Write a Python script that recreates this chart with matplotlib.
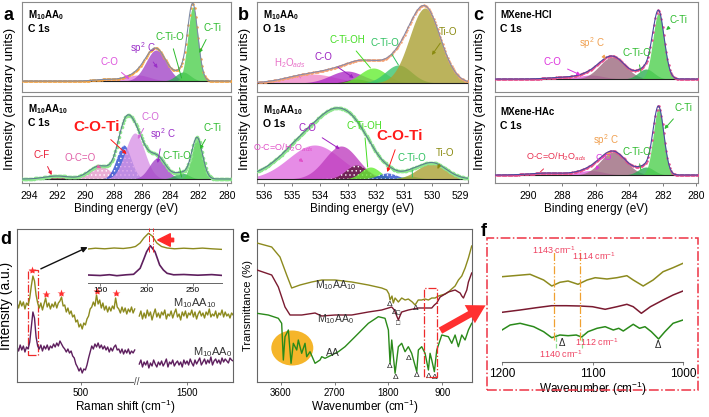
import numpy as np
import matplotlib.pyplot as plt
from matplotlib.patches import Rectangle, Ellipse, FancyArrowPatch

plt.rcParams['font.family'] = ['Liberation Sans', 'DejaVu Sans']
plt.rcParams['mathtext.fontset'] = 'custom'
plt.rcParams['mathtext.rm'] = 'Liberation Sans'
plt.rcParams['mathtext.it'] = 'Liberation Sans:italic'
plt.rcParams['mathtext.bf'] = 'Liberation Sans:bold'
plt.rcParams['hatch.linewidth'] = 0.5

W, H = 709, 417

# ---------------- XPS fitted components (centre eV, height, fwhm) ----------------
a_top_pos = [288.6, 286.3, 285.0, 283.1, 282.4]
a_top_height = [1.5, 6, 31, 9, 74]
a_top_fwhm = [1.8, 2.0, 1.7, 1.2, 0.85]

a_bot_pos = [292.0, 289.0, 287.3, 286.5, 284.9, 283.2, 282.1]
a_bot_height = [3, 13, 34, 46, 21, 6, 41]
a_bot_fwhm = [2.0, 1.8, 1.2, 1.6, 1.4, 1.2, 0.9]

b_top_pos = [534.3, 533.05, 532.7, 532.1, 531.2, 530.25]
b_top_height = [9, 12, 4, 15, 18, 75]
b_top_fwhm = [2.0, 1.4, 0.8, 1.1, 1.1, 1.3]

b_bot_pos = [534.2, 533.25, 532.7, 532.2, 531.6, 530.8, 530.0]
b_bot_height = [34, 33, 14, 12, 6, 3, 16]
b_bot_fwhm = [2.2, 1.4, 0.9, 0.8, 0.8, 0.7, 1.2]
b_bot_background = (534.0, 14, 3.5)

c_top_pos = [288.0, 286.3, 285.0, 283.0, 282.25]
c_top_height = [1.5, 4, 22, 10, 66]
c_top_fwhm = [2.0, 1.8, 1.8, 1.1, 0.8]

c_bot_pos = [288.8, 286.3, 284.95, 283.0, 282.25]
c_bot_height = [2, 4.5, 23, 8, 66.7]
c_bot_fwhm = [2.5, 1.8, 1.8, 1.1, 0.75]

# ---------------- Raman (d) ----------------
raman_left_start, raman_right_start, raman_step = 100, 1200, 10
raman_gap = 331  # cm-1 removed by the axis break
raman_top_left = [79, 74, 81, 76, 80, 73, 79, 77, 84, 96, 106, 101, 87, 79, 74, 79, 72, 78, 84, 75,
                  79, 73, 78, 75, 80, 74, 79, 81, 85, 76, 77, 70, 74, 68, 71, 65, 67, 60, 62, 55,
                  58, 53, 59, 57, 63, 66, 73, 75, 80, 76, 87, 78, 82, 74, 79, 72, 76, 70, 75, 71,
                  76, 73, 84, 75, 73, 69, 75, 70, 74, 68, 73, 70, 75, 69, 73]
raman_bot_left = [35, 31, 37, 32, 36, 30, 35, 33, 40, 55, 70, 64, 45, 36, 33, 37, 31, 36, 33, 37,
                  32, 36, 34, 38, 35, 39, 36, 41, 38, 35, 33, 30, 33, 29, 31, 26, 24, 18, 15, 11,
                  14, 9, 13, 12, 17, 24, 30, 36, 33, 38, 35, 39, 34, 37, 33, 36, 32, 35, 30, 34,
                  31, 35, 37, 32, 33, 29, 33, 28, 32, 29, 33, 28, 31, 29, 32]
raman_top_right = [66, 71, 63, 69, 64, 72, 66, 70, 62, 68, 73, 65, 69, 64, 70, 67, 72, 63, 68, 66,
                   71, 64, 69, 73, 65, 68, 62, 70, 66, 71, 64, 69, 67, 72, 65, 70, 63, 68, 71, 66,
                   69, 64, 70, 67, 73, 65, 68, 66, 71, 64, 69, 67, 72, 65, 70, 66, 68, 64, 69, 67]
raman_bot_right = [18, 22, 15, 20, 17, 21, 14, 19, 16, 22, 18, 15, 20, 17, 21, 16, 19, 23, 15, 20,
                   18, 22, 16, 19, 21, 17, 20, 15, 22, 18, 21, 17, 23, 19, 16, 22, 18, 21, 24, 17,
                   20, 23, 18, 22, 19, 25, 17, 21, 23, 19, 22, 18, 24, 20, 23, 21, 19, 24, 22, 21]
raman_stars_x = [192, 282, 377, 601, 721]
raman_stars_y = [112, 88, 89, 91, 89]

inset_top_x = [137, 145, 155, 165, 175, 183, 188, 193, 197, 202, 206, 211, 216, 222, 230, 240, 250, 260, 270, 281]
inset_top_y = [34, 34.8, 34.2, 35, 34.5, 35.4, 36.5, 40, 45, 49.7, 47, 40, 36.5, 35, 34.2, 34.8, 34.3, 34.9, 34.2, 33.6]
inset_bot_x = [137, 150, 160, 168, 178, 186, 193, 197, 200, 204, 209, 214, 218, 222, 229, 240, 255, 270, 281]
inset_bot_y = [8, 7.5, 8.3, 7.3, 8.2, 8.7, 14.7, 24, 31.3, 37.3, 31.3, 18, 13, 9.7, 8.2, 8.5, 7.8, 8.4, 7.6]

# ---------------- FTIR (e) ----------------
ftir_m10_w = [4000, 3754, 3615, 3503, 3419, 3280, 3084, 2916, 2693, 2414, 2135, 1912, 1828, 1790, 1772,
              1740, 1717, 1688, 1660, 1633, 1577, 1520, 1466, 1400, 1353, 1300, 1242, 1186, 1130, 1074,
              1018, 962, 906, 850, 796, 740, 683, 627, 571, 515, 460, 405]
ftir_m10 = [139, 135, 125, 107, 94, 97, 100, 102, 102, 100, 97, 94, 92, 88, 82,
            86, 79, 84, 82, 80, 84, 82, 83, 80, 77, 82, 82, 83, 82, 84,
            84, 86, 87, 88, 90, 93, 96, 102, 106, 114, 124, 136]
ftir_m0_w = [4000, 3754, 3643, 3531, 3447, 3251, 3028, 2916, 2693, 2414, 2135, 1912, 1800, 1744, 1700,
             1660, 1633, 1600, 1577, 1466, 1300, 1186, 1074, 1030, 990, 934, 850, 796, 683, 628,
             599, 571, 543, 516, 487, 460, 405]
ftir_m0 = [112, 107, 95, 75, 67, 67, 69, 66, 67, 67, 70, 72, 74, 75, 72,
           66, 62, 67, 70, 72, 74, 74, 74, 77, 79, 85, 88, 90, 92, 90,
           89, 86, 84, 88, 92, 100, 109]
ftir_aa_w = [4000, 3811, 3643, 3587, 3559, 3531, 3475, 3430, 3392, 3335, 3308, 3252, 3196, 3168, 3112,
             3028, 2945, 2916, 2861, 2749, 2638, 2526, 2358, 2135, 1968, 1856, 1800, 1772, 1744, 1688,
             1633, 1577, 1521, 1466, 1410, 1325, 1298, 1242, 1186, 1130, 1102, 1074, 1030, 990, 906,
             796, 739, 683, 628, 571, 516, 460, 405]
ftir_aa = [68.7, 67, 63.7, 58.7, 22, 45.3, 52, 18.7, 38.7, 32, 42, 28.7, 38.7, 25.3, 30.3,
           18.7, 22, 25.3, 23.7, 27, 30.3, 35.3, 45.3, 58.7, 65.3, 63.7, 52, 18.7, 42, 8.7,
           35.3, 38.7, 30.3, 35.3, 28.7, 10.3, 32, 35.3, 28.7, 12, 28.7, 22, 10.3, 32, 47,
           45.3, 38.7, 47, 35.3, 47, 42, 52, 58.7]
aa_delta_w = [1772, 1688, 1466, 1325, 1130, 1030]
aa_delta_y = [19, 8, 27, 10, 9, 8]
m10_delta_w = [1783, 1700, 1353]
m10_delta_y = [81, 73, 77]

# ---------------- FTIR zoom (f) ----------------
f_m10_w = [1200, 1187, 1169, 1154, 1145, 1136, 1127, 1116, 1106, 1097, 1084, 1073, 1062, 1055, 1044,
           1033, 1022, 1011, 1000]
f_m10 = [85.3, 86.3, 87.7, 82, 76, 79.7, 81, 77.7, 82, 84.3, 83, 84.3, 86.3, 82, 76, 82, 90.3, 94.3, 98.7]
f_m0_w = [1200, 1180, 1162, 1145, 1129, 1114, 1100, 1086, 1073, 1062, 1055, 1046, 1036, 1022, 1011, 1000]
f_m0 = [49.7, 52, 54.3, 56.3, 56.3, 56, 55.3, 52.7, 55.3, 57.7, 55.3, 48.7, 55.3, 62, 67, 71]
f_aa_w = [1200, 1191, 1180, 1165, 1154, 1145, 1136, 1127, 1118, 1112, 1105, 1095, 1086, 1077, 1071,
          1066, 1055, 1048, 1042, 1035, 1027, 1020, 1011, 1000]
f_aa = [32, 37, 38.7, 35.3, 30.3, 24.3, 27, 26.3, 27, 25, 30.3, 33.7, 35.3, 32, 33.7,
        31, 37.7, 33.7, 35.3, 30.3, 23, 30.3, 38.7, 42]
f_marks_m10 = [1143, 1114]
f_marks_aa = [1140, 1112]


fig = plt.figure(figsize=(7.09, 4.17), dpi=100)


def rect(x0, y0, x1, y1):
    return [x0 / W, 1 - y1 / H, (x1 - x0) / W, (y1 - y0) / H]


def fp(x, y):
    return (x / W, 1 - y / H)


def gauss(x, c, h, w):
    return h * np.exp(-4 * np.log(2) * ((x - c) / w) ** 2)


def frame(ax, color='#8a8a8a'):
    for s in ax.spines.values():
        s.set_color(color)
        s.set_linewidth(0.8)
    ax.set_yticks([])


def xps(ax, pos, height, fwhm, colors, xlim, ylim, bg=None, raw='#f6a23c',
        line='#7f8ca6', ms=1.8, hatches=None):
    e = np.linspace(xlim[1], xlim[0], 500)
    total = np.zeros_like(e)
    for i, (c, h, w) in enumerate(zip(pos, height, fwhm)):
        y = gauss(e, c, h, w)
        total += y
        ax.fill_between(e, 0, y, color=colors[i], alpha=0.8, lw=0, zorder=2)
        if hatches and hatches[i]:
            ax.fill_between(e, 0, y, facecolor='none', edgecolor='#ffffff',
                            hatch=hatches[i], lw=0, zorder=2)
    if bg is not None:
        total = total + gauss(e, *bg)
    ax.plot(e, np.zeros_like(e), color='#202020', lw=0.8, zorder=3)
    ax.plot(e[::3], total[::3], 'o', ms=ms, mec='none', color=raw, zorder=4)
    ax.plot(e, total, color=line, lw=0.8, zorder=5)
    ax.set_xlim(xlim)
    ax.set_ylim(ylim)
    frame(ax)


def lab(ax, text, xy, txy, color, size=7, weight='normal', style='-|>'):
    ax.annotate(text, xy=xy, xytext=fp(*txy), textcoords='figure fraction',
                color=color, fontsize=size, fontweight=weight, ha='center', va='center',
                arrowprops=dict(arrowstyle=style, color=color, lw=0.7, mutation_scale=5,
                                shrinkA=3, shrinkB=0), zorder=8)


def head(l1, l2, x, y):
    fig.text(*fp(x, y), l1, fontsize=7, fontweight='bold', ha='left', va='center')
    fig.text(*fp(x, y + 14), l2, fontsize=7.5, fontweight='bold', ha='left', va='center')


def xps_ticks(ax, ticks):
    ax.set_xticks(ticks)
    ax.tick_params(labelsize=7.5, length=2.5, width=0.6, color='#666', pad=3)
    ax.set_xlabel('Binding energy (eV)', fontsize=8.5, labelpad=1.5)


green, dgreen = '#4fd04f', '#2fae55'
txt_green = '#2dbb2d'

# ================= a =================
axa1 = fig.add_axes(rect(22, 2, 231, 92))
axa2 = fig.add_axes(rect(22, 96, 231, 183))
xps(axa1, a_top_pos, a_top_height, a_top_fwhm,
    ['#e59acb', '#e27ae2', '#a347c7', dgreen, green], (294.5, 279.7), (-11, 79))
xps(axa2, a_bot_pos, a_bot_height, a_bot_fwhm,
    ['#8a1c3c', '#e59acb', '#2a4bd0', '#d994e6', '#a347c7', dgreen, green],
    (294.5, 279.7), (-4, 83), raw='#8ee68e', line='#5b7d8e', ms=2.6,
    hatches=[None, '....', '....', None, None, None, None])
axa1.set_xticks([])
xps_ticks(axa2, np.arange(280, 295, 2))
head(r'M$_{\mathbf{10}}$AA$_{\mathbf{0}}$', 'C 1s', 28, 15)
head(r'M$_{\mathbf{10}}$AA$_{\mathbf{10}}$', 'C 1s', 28, 109)
lab(axa1, 'C-Ti', (281.95, 28), (212, 28), txt_green)
lab(axa1, 'C-Ti-O', (283.2, 3), (170, 37), txt_green, style='-')
lab(axa1, 'sp$^2$ C', (284.9, 13), (143, 48), '#9b30c8')
lab(axa1, 'C-O', (286.9, 2), (109, 62), '#dd55dd')
lab(axa2, 'C-F', (292.4, 4), (42, 155), '#e8203a')
lab(axa2, 'O-C=O', (288.9, 11), (80, 158), '#e060a8')
lab(axa2, 'C-O-Ti', (287.1, 25), (97, 127), '#ff1a1a', size=11, weight='bold')
lab(axa2, 'C-O', (286.3, 40), (150, 117), '#d46ad8')
lab(axa2, 'sp$^2$ C', (284.9, 16), (163, 134), '#9b30c8')
lab(axa2, 'C-Ti-O', (283.2, 2), (177, 156), txt_green, style='-')
lab(axa2, 'C-Ti', (281.9, 30), (212, 128), txt_green)

# ================= b =================
axb1 = fig.add_axes(rect(257, 2, 468, 92))
axb2 = fig.add_axes(rect(257, 96, 468, 183))
xps(axb1, b_top_pos, b_top_height, b_top_fwhm,
    ['#f08ac8', '#b02ec8', '#5c1a3c', '#66ee33', '#3cc46e', '#aaa033'],
    (536.26, 528.71), (-9, 81), raw='#f6a070', line='#8a8aa8')
xps(axb2, b_bot_pos, b_bot_height, b_bot_fwhm,
    ['#e070e0', '#c040c0', '#5c1a3c', '#66ee33', '#2a4bd0', '#3cc46e', '#aaa033'],
    (536.26, 528.71), (-4, 83), bg=b_bot_background, raw='#8ee68e', line='#5b7d8e', ms=2.6,
    hatches=[None, None, '....', None, '....', None, None])
axb1.set_xticks([])
xps_ticks(axb2, np.arange(529, 537, 1))
head(r'M$_{\mathbf{10}}$AA$_{\mathbf{0}}$', 'O 1s', 263, 15)
head(r'M$_{\mathbf{10}}$AA$_{\mathbf{10}}$', 'O 1s', 263, 110)
lab(axb1, 'Ti-O', (530.0, 28), (448, 32), '#8a8a10')
lab(axb1, 'C-Ti-O', (531.2, 18), (385, 43), '#2fc060', style='-')
lab(axb1, 'C-Ti-OH', (532.2, 15), (347, 40), '#44dd22', style='-')
lab(axb1, 'C-O', (532.8, 5), (323, 57), '#9a20c0')
lab(axb1, 'H$_2$O$_{ads}$', (534.7, 5), (290, 63), '#e870c8', style='-')
lab(axb2, 'C-O', (533.3, 30), (307, 128), '#a020c0')
lab(axb2, 'O-C=O/H$_2$O$_{ads}$', (534.6, 17), (283, 148), '#e050c8', size=6.5)
lab(axb2, 'C-Ti-OH', (532.3, 12), (364, 126), '#44dd22', style='-')
lab(axb2, 'C-O-Ti', (531.6, 7), (400, 136), '#ff1a1a', size=11, weight='bold')
lab(axb2, 'C-Ti-O', (530.7, 2), (412, 158), '#2fc060', style='-')
lab(axb2, 'Ti-O', (529.8, 10), (445, 153), '#8a8a10')

# ================= c =================
axc1 = fig.add_axes(rect(495, 2, 698, 92))
axc2 = fig.add_axes(rect(495, 96, 698, 183))
c_cols = ['#ee88bb', '#e05ce0', '#9c6b7e', dgreen, green]
xps(axc1, c_top_pos, c_top_height, c_top_fwhm, c_cols, (292, 279.9), (-13, 77),
    raw='#e84a8a', line='#4a4aa0')
xps(axc2, c_bot_pos, c_bot_height, c_bot_fwhm, c_cols, (292, 279.9), (-8, 79),
    raw='#e84a8a', line='#4a4aa0')
axc1.set_xticks([])
xps_ticks(axc2, np.arange(280, 291, 2))
head('MXene-HCl', 'C 1s', 500, 15)
head('MXene-HAc', 'C 1s', 500, 112)
lab(axc1, 'C-Ti', (281.8, 49), (678, 20), txt_green)
lab(axc1, 'C-Ti-O', (283.3, 7), (637, 53), txt_green, style='-')
lab(axc1, 'sp$^2$ C', (285.4, 20), (592, 43), '#f0a050')
lab(axc1, 'C-O', (286.9, 4), (552, 62), '#dd33dd')
lab(axc2, 'C-Ti', (281.9, 46), (683, 108), txt_green)
lab(axc2, 'C-Ti-O', (283.3, 5), (637, 152), txt_green, style='-')
lab(axc2, 'sp$^2$ C', (285.2, 18), (606, 140), '#f0a050')
lab(axc2, 'O-C=O/H$_2$O$_{ads}$', (289.3, 3), (556, 157), '#e83050', size=6.5, style='-')
lab(axc2, 'C-O', (286.0, 5), (604, 158), '#dd33dd', size=6.5)

for x in (10, 245, 480):
    fig.text(*fp(x, 99), 'Intensity (arbitrary units)', rotation=90, fontsize=9.5,
             ha='center', va='center')

# ================= d =================
axd = fig.add_axes(rect(17, 229, 233, 382))
xl = raman_left_start + raman_step * np.arange(len(raman_top_left))
xr = raman_right_start - raman_gap + raman_step * np.arange(len(raman_top_right))
axd.plot(xl, raman_top_left, color='#8c8a1e', lw=1.0)
axd.plot(xr, raman_top_right, color='#8c8a1e', lw=1.0)
axd.plot(xl, raman_bot_left, color='#5e1f5e', lw=1.0)
axd.plot(xr, raman_bot_right, color='#5e1f5e', lw=1.0)
axd.plot(raman_stars_x, raman_stars_y, '*', color='#ff3030', ms=6, mec='none')
axd.add_patch(Rectangle((171, 27), 63, 85, fill=False, ls='-.', color='#ee2a2a', lw=0.9))
axd.annotate('', xy=(560, 136), xytext=(234, 112),
             arrowprops=dict(arrowstyle='-|>', color='#111', lw=1.0, mutation_scale=8))
axd.text(855, 0, '//', fontsize=7, ha='center', va='center', color='#444',
         bbox=dict(fc='white', ec='none', pad=0.3))
axd.set_xlim(100, 1458)
axd.set_ylim(0, 153)
axd.set_xticks([500, 1500 - raman_gap], ['500', '1500'])
axd.tick_params(labelsize=7, length=2.5, width=0.6, color='#666', pad=1.5)
frame(axd, '#666666')
axd.set_xlabel('Raman shift (cm$^{-1}$)', fontsize=8.5, labelpad=0)
axd.set_ylabel('Intensity (a.u.)', fontsize=10, labelpad=3)
fig.text(*fp(195, 303), 'M$_{10}$AA$_{10}$', fontsize=8, ha='center', va='center', color='#333')
fig.text(*fp(213, 352), 'M$_{10}$AA$_0$', fontsize=8, ha='center', va='center', color='#333')

axi = fig.add_axes(rect(88, 228, 222, 283))
axi.patch.set_alpha(0)
axi.plot(inset_top_x, inset_top_y, color='#8c8a1e', lw=1.0)
axi.plot(inset_bot_x, inset_bot_y, color='#5e1f5e', lw=1.2)
for xv in (203, 207):
    axi.plot([xv, xv], [31, 55], color='#ee2a2a', lw=0.7, ls='-.')
axi.annotate('', xy=(209, 43), xytext=(232, 43),
             arrowprops=dict(arrowstyle='simple,head_length=0.9,head_width=0.9,tail_width=0.25',
                             color='#ff2a2a', mutation_scale=10))
axi.set_xlim(137, 281)
axi.set_ylim(0, 55)
for s in ('top', 'left', 'right'):
    axi.spines[s].set_visible(False)
axi.spines['bottom'].set_color('#666')
axi.spines['bottom'].set_linewidth(0.7)
axi.set_yticks([])
axi.set_xticks([150, 200, 250])
axi.tick_params(labelsize=6, length=2, width=0.6, color='#666', pad=1)

# ================= e =================
axe = fig.add_axes(rect(257, 229, 472, 382))
axe.add_patch(Ellipse((3409, 34), 703, 35, color='#f5b52a', lw=0, zorder=1))
axe.plot(ftir_m10_w, ftir_m10, color='#8c8a1e', lw=1.0, zorder=3)
axe.plot(ftir_m0_w, ftir_m0, color='#7a1a30', lw=1.0, zorder=3)
axe.plot(ftir_aa_w, ftir_aa, color='#2a8a1a', lw=1.0, zorder=3)
for xv, yv in zip(aa_delta_w, aa_delta_y):
    axe.text(xv, yv, 'Δ', fontsize=6, ha='center', va='top', color='#222')
for xv, yv in zip(m10_delta_w, m10_delta_y):
    axe.text(xv, yv, 'Δ', fontsize=6, ha='center', va='top', color='#222')
axe.text(1640, 72, '□', fontsize=5, ha='center', va='top', color='#222')
axe.text(1633, 62, '□', fontsize=5, ha='center', va='top', color='#222')
axe.add_patch(Rectangle((990, 5), 210, 89, fill=False, ls='-.', color='#ee2a2a', lw=0.9, zorder=4))
axe.set_xlim(4000, 400)
axe.set_ylim(0, 153)
axe.set_xticks([3600, 2700, 1800, 900])
axe.tick_params(labelsize=7, length=2.5, width=0.6, color='#666', pad=1.5)
frame(axe, '#666666')
axe.set_xlabel('Wavenumber (cm$^{-1}$)', fontsize=8.5, labelpad=0)
axe.set_ylabel('Transmittance (%)', fontsize=8, labelpad=3)
fig.text(*fp(335, 285), 'M$_{10}$AA$_{10}$', fontsize=7.5, ha='center', va='center', color='#333')
fig.text(*fp(335, 319), 'M$_{10}$AA$_0$', fontsize=7.5, ha='center', va='center', color='#333')
fig.text(*fp(333, 353), 'AA', fontsize=7.5, ha='center', va='center', color='#333')

fig.patches.append(FancyArrowPatch(fp(438, 332), fp(488, 304), transform=fig.transFigure,
                                   arrowstyle='simple,head_length=1.3,head_width=1.5,tail_width=0.5',
                                   mutation_scale=10, color='#ff3030', lw=0))

# ================= f =================
axf = fig.add_axes(rect(502, 238, 683, 362))
axf.plot(f_m10_w, f_m10, color='#8c8a1e', lw=1.1)
axf.plot(f_m0_w, f_m0, color='#7a1a30', lw=1.1)
axf.plot(f_aa_w, f_aa, color='#2a8a1a', lw=1.1)
for xv in f_marks_m10:
    axf.plot([xv, xv], [22, 112], color='#f0a030', lw=0.9, ls='-.')
for xv in f_marks_aa:
    axf.plot([xv, xv], [14, 28], color='#90e090', lw=0.9, ls='--')
axf.text(1134, 19, 'Δ', fontsize=7, ha='center', va='center', color='#222')
axf.text(1028, 17, 'Δ', fontsize=7, ha='center', va='center', color='#222')
pink = '#ee4060'
axf.text(1143, 112, '1143 cm$^{-1}$', fontsize=6.5, color=pink, ha='center', va='center')
axf.text(1099, 106, '1114 cm$^{-1}$', fontsize=6.5, color=pink, ha='center', va='center')
axf.text(1095, 20, '1112 cm$^{-1}$', fontsize=6.5, color=pink, ha='center', va='center')
axf.text(1135, 8, '1140 cm$^{-1}$', fontsize=6.5, color=pink, ha='center', va='center')
axf.set_xlim(1200, 1000)
axf.set_ylim(0, 124)
for s in ('top', 'left', 'right'):
    axf.spines[s].set_visible(False)
axf.spines['bottom'].set_color('#666')
axf.spines['bottom'].set_linewidth(0.8)
axf.set_yticks([])
axf.set_xticks([1200, 1100, 1000])
axf.tick_params(labelsize=8.5, length=2.5, width=0.6, color='#666', pad=1.5)
axf.set_xlabel('Wavenumber (cm$^{-1}$)', fontsize=8.5, labelpad=0)
fig.patches.append(Rectangle(fp(487, 390), 211 / W, 152 / H, transform=fig.transFigure,
                             fill=False, ls='-.', color='#ee3344', lw=1.1))

# panel letters
for letter, x, y in [('a', 8, 15), ('b', 243, 15), ('c', 478, 15), ('d', 6, 240),
                     ('e', 244, 238), ('f', 484, 232)]:
    fig.text(*fp(x, y), letter, fontsize=13, fontweight='bold', ha='center', va='center')

fig.savefig('out.png', dpi=100)
